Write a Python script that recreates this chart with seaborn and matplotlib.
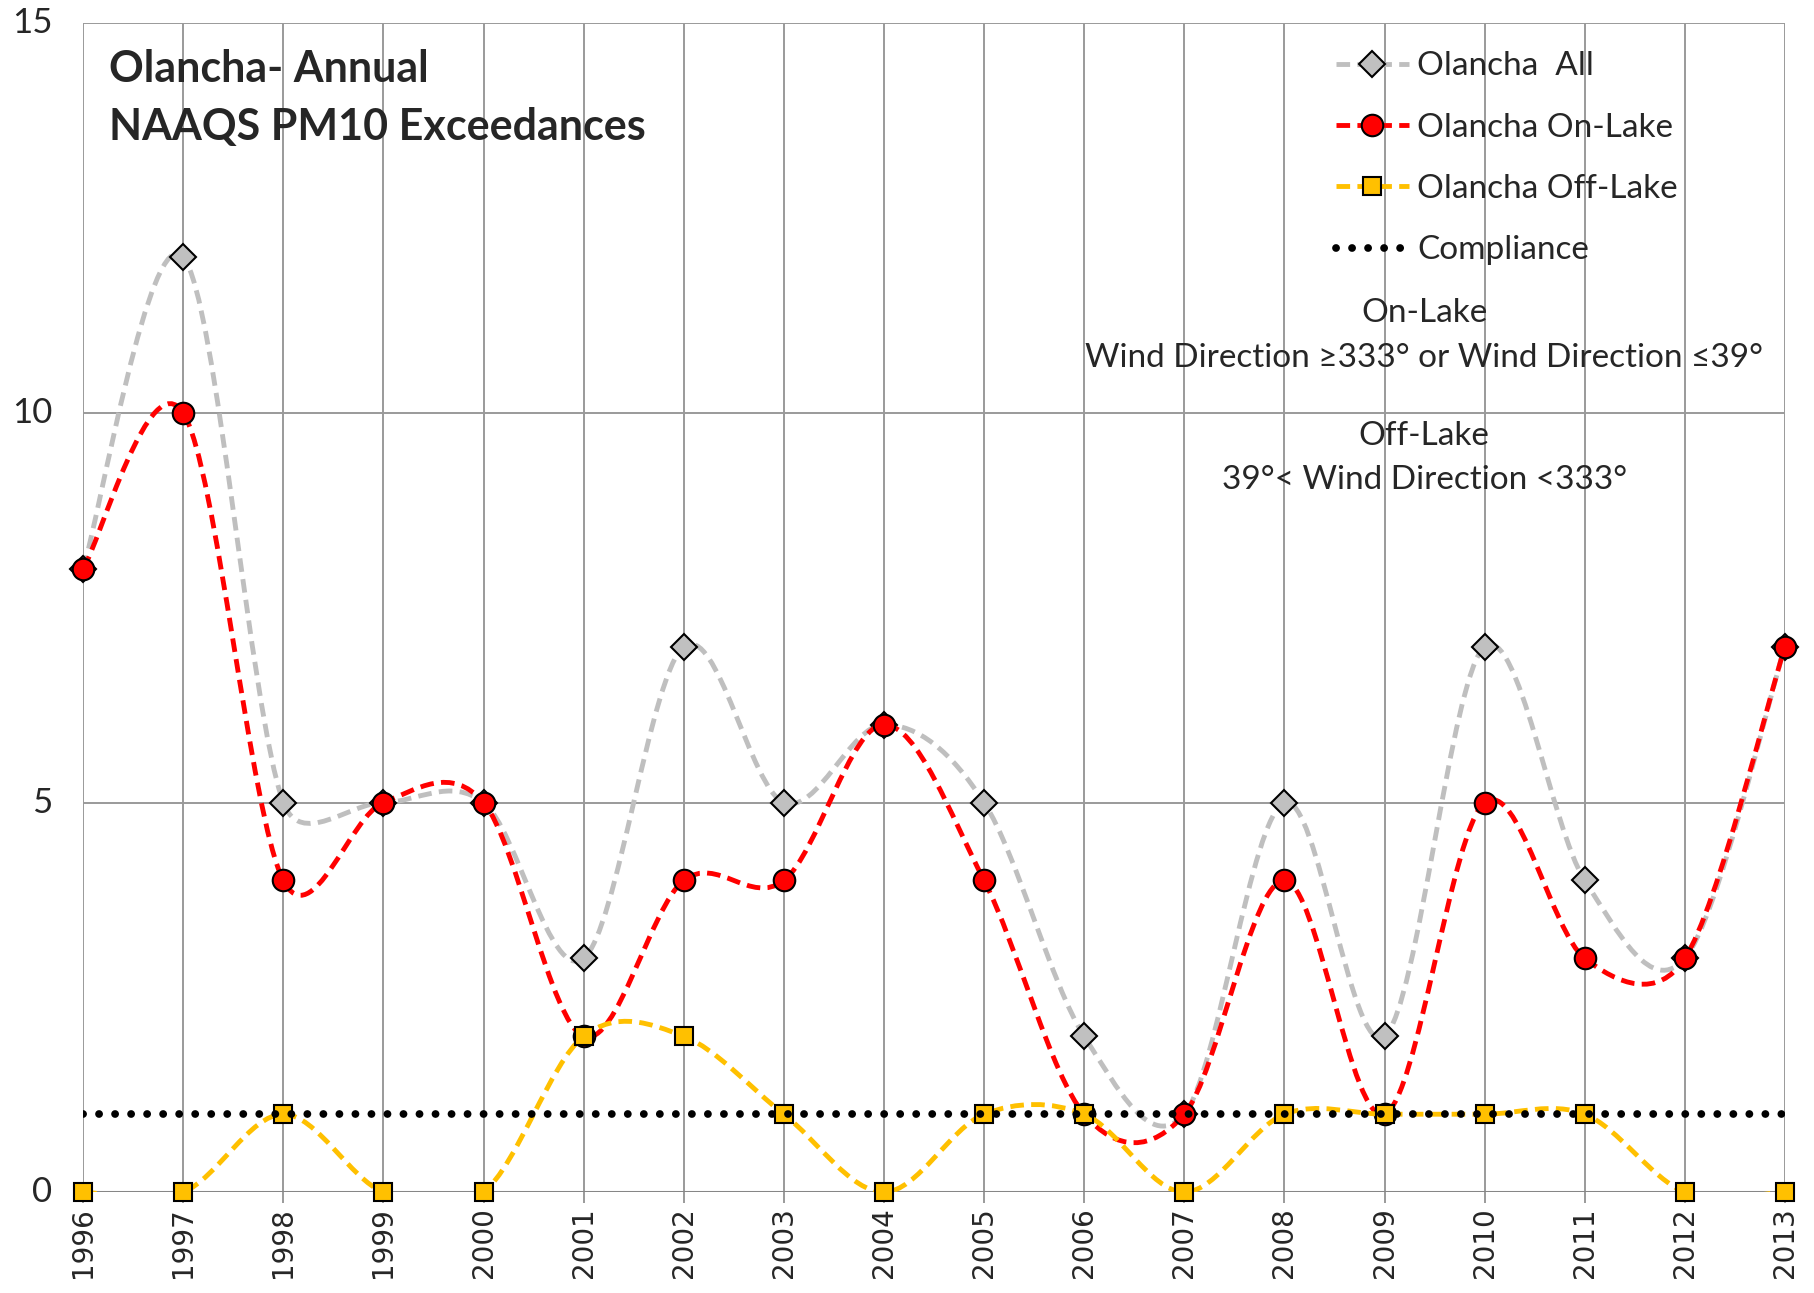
import numpy as np
import pandas as pd
import matplotlib
matplotlib.use("Agg")
import matplotlib.pyplot as plt
import seaborn as sns
from matplotlib.path import Path
from matplotlib.patches import PathPatch
from matplotlib.lines import Line2D

# ---- data ----
years = list(range(1996, 2014))
all_vals = [8, 12, 5, 5, 5, 3, 7, 5, 6, 5, 2, 1, 5, 2, 7, 4, 3, 7]
on_lake = [8, 10, 4, 5, 5, 2, 4, 4, 6, 4, 1, 1, 4, 1, 5, 3, 3, 7]
off_lake = [0, 0, 1, 0, 0, 2, 2, 1, 0, 1, 1, 0, 1, 1, 1, 1, 0, 0]
compliance = [1] * 18
y_ticks = [0, 5, 10, 15]
series_names = ["Olancha  All", "Olancha On-Lake", "Olancha Off-Lake", "Compliance"]
title_text = "Olancha- Annual\nNAAQS PM10 Exceedances"
note_on = "On-Lake\nWind Direction \u2265333\u00b0 or Wind Direction \u226439\u00b0"
note_off = "Off-Lake\n39\u00b0< Wind Direction <333\u00b0"

sns.set_theme(style="white")
TXT = ["Lato", "DejaVu Sans"]
plt.rcParams["font.family"] = TXT

fig = plt.figure(figsize=(18.14, 12.93), dpi=100)
ax = fig.add_axes([0.0458, 0.078, 0.9382, 0.904])
ax.set_xlim(years[0], years[-1])
ax.set_ylim(0, 15)

GRID = "#9a9a9a"


def smooth_path(x, y, limit=0.5):
    """Excel-like smoothed line: Catmull-Rom cubic Bezier through every data
    point (screen space), control arms limited relative to the segment."""
    T = ax.transData
    P = T.transform(np.column_stack([np.asarray(x, float), np.asarray(y, float)]))
    n = len(P)
    Pp = np.vstack([P[0], P, P[-1]])
    fwd, bwd = [], []
    for i in range(n):
        p0, p1, p2 = Pp[i], Pp[i + 1], Pp[i + 2]
        tan = (p2 - p0) / 6.0
        L = np.hypot(*tan)
        d_in = np.hypot(*(p1 - p0))
        d_out = np.hypot(*(p2 - p1))
        sf = 1.0 if L == 0 or L <= limit * d_out else limit * d_out / L
        sb = 1.0 if L == 0 or L <= limit * d_in else limit * d_in / L
        fwd.append(p1 + tan * sf)
        bwd.append(p1 - tan * sb)
    verts = [P[0]]
    codes = [Path.MOVETO]
    for i in range(1, n):
        verts += [fwd[i - 1], bwd[i], P[i]]
        codes += [Path.CURVE4] * 3
    verts = T.inverted().transform(np.array(verts))
    return Path(verts, codes)


df = pd.DataFrame({"year": years, "all": all_vals, "on": on_lake,
                   "off": off_lake, "comp": compliance})

LW = 3.5
DOT_LW = 5.6
dash = (0, (2.8, 1.5))
dot = (0, (0.01, 2.05))
styles = [
    ("all", "#BFBFBF", "D", "#C0C0C0", 13, 3),
    ("on", "#FF0000", "o", "#FF0000", 15.5, 4),
    ("off", "#FFC000", "s", "#FFC000", 13, 5),
]

for col, lc, mk, fc, ms, z in styles:
    patch = PathPatch(smooth_path(df["year"], df[col]), fill=False, edgecolor=lc,
                      linewidth=LW, linestyle=dash, capstyle="butt",
                      transform=ax.transData, zorder=z)
    ax.add_patch(patch)
    sns.lineplot(data=df, x="year", y=col, ax=ax, linestyle="none", marker=mk,
                 markersize=ms, markerfacecolor=fc, markeredgecolor="black",
                 markeredgewidth=1.5, zorder=z + 0.5, clip_on=False)

# compliance dotted line (drawn on top, as in the original)
sns.lineplot(data=df, x="year", y="comp", ax=ax, color="black", linewidth=DOT_LW,
             linestyle=dot, zorder=7)
ax.lines[-1].set_dash_capstyle("round")

ax.set_xticks(years)
ax.set_xticklabels([str(y) for y in years], rotation=90, fontsize=20,
                   family="DejaVu Sans")
ax.set_yticks(y_ticks)
ax.set_yticklabels([str(v) for v in y_ticks], fontsize=25)
ax.set_xlabel("")
ax.set_ylabel("")
for s in ax.spines.values():
    s.set_visible(False)
ax.grid(True, color=GRID, linewidth=1.4)
ax.set_axisbelow(True)
ax.axhline(0, color="#868686", linewidth=2.2, zorder=1.5)
ax.tick_params(axis="x", length=8, width=1.4, color=GRID, pad=3, bottom=True)
ax.tick_params(axis="y", length=0, pad=22)
for t in ax.get_yticklabels():
    t.set_verticalalignment("center")

ax.text(0.015, 0.978, title_text, transform=ax.transAxes, fontsize=31,
        fontweight="bold", va="top", ha="left", linespacing=1.55)
ax.text(0.788, 0.733, note_on, transform=ax.transAxes, fontsize=24,
        ha="center", va="center", linespacing=1.6)
ax.text(0.788, 0.628, note_off, transform=ax.transAxes, fontsize=24,
        ha="center", va="center", linespacing=1.6)

handles = [
    Line2D([], [], color="#BFBFBF", lw=LW, linestyle=dash, marker="D", markersize=13,
           markerfacecolor="#C0C0C0", markeredgecolor="black", markeredgewidth=1.5),
    Line2D([], [], color="#FF0000", lw=LW, linestyle=dash, marker="o", markersize=15.5,
           markerfacecolor="#FF0000", markeredgecolor="black", markeredgewidth=1.5),
    Line2D([], [], color="#FFC000", lw=LW, linestyle=dash, marker="s", markersize=13,
           markerfacecolor="#FFC000", markeredgecolor="black", markeredgewidth=1.5),
    Line2D([], [], color="black", lw=DOT_LW, linestyle=dot, dash_capstyle="round"),
]
ax.legend(handles, series_names, loc="upper left", bbox_to_anchor=(0.736, 0.976),
          frameon=False, fontsize=24, handlelength=2.2, handletextpad=0.25,
          labelspacing=0.94, borderpad=0, borderaxespad=0)

fig.savefig("out.png", dpi=100)
